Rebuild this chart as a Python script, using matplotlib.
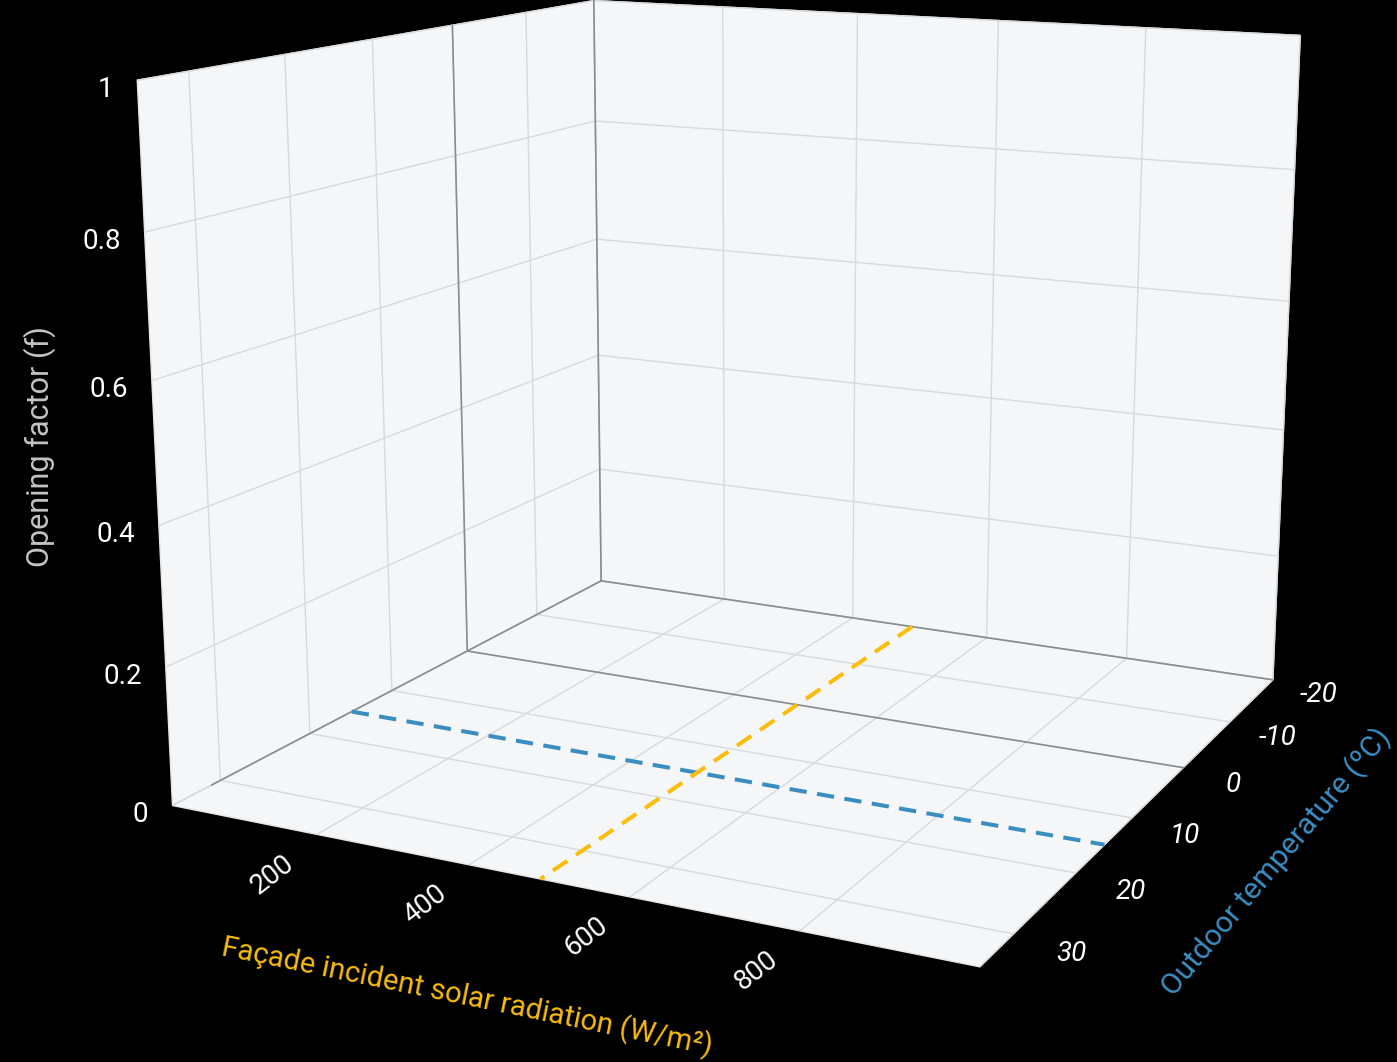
import matplotlib.pyplot as plt
from mpl_toolkits.mplot3d import proj3d

# axis data
temp_range = [-20, 35]
rad_range = [0, 1000]
f_range = [0, 1]
temp_ticks = [-20, -10, 0, 10, 20, 30]
rad_ticks = [200, 400, 600, 800]
f_ticks = [0, 0.2, 0.4, 0.6, 0.8, 1]
f_labels = ['0', '0.2', '0.4', '0.6', '0.8', '1']

# threshold lines on the floor
blue_temp = 15
yellow_rad = 490

plt.rcParams['font.family'] = ['Roboto', 'DejaVu Sans']
plt.rcParams['grid.color'] = '#d7dadd'
plt.rcParams['grid.linewidth'] = 1.0

W, H = 1397, 1062
fig = plt.figure(figsize=(W / 100, H / 100), dpi=100, facecolor='black')
# axes shifted so the box sits like in the reference
ax = fig.add_axes([43.3 / W, 109.7 / H, 1, 1], projection='3d', facecolor='black')

ax.set_xlim(*temp_range)
ax.set_ylim(*rad_range)
ax.set_zlim(*f_range)
ax.set_xticks(temp_ticks)
ax.set_yticks([0] + rad_ticks + [1000])
ax.set_zticks(f_ticks)
ax.set_xticklabels([])
ax.set_yticklabels([])
ax.set_zticklabels([])

for axis in (ax.xaxis, ax.yaxis, ax.zaxis):
    axis.set_pane_color('#f4f6f7')
    axis.pane.set_edgecolor('#e4e6e8')
    axis.line.set_color((0, 0, 0, 0))
    axis._axinfo['tick']['inward_factor'] = 0.0
    axis._axinfo['tick']['outward_factor'] = 0.0

ax.set_proj_type('persp', focal_length=0.5126)
ax.view_init(elev=13.33, azim=26.49)
ax.set_box_aspect((1.0017, 1, 0.8349), zoom=1.261)

# zero lines
zc = '#8a8d90'
ax.plot([0, 0], [0, 0], f_range, color=zc, lw=1.2)
ax.plot([0, 0], rad_range, [0, 0], color=zc, lw=1.2)
ax.plot([temp_range[0]] * 2, [0, 0], f_range, color=zc, lw=1.2)
ax.plot(temp_range, [0, 0], [0, 0], color=zc, lw=1.2)
ax.plot([temp_range[0]] * 2, rad_range, [0, 0], color=zc, lw=1.2)

# dashed threshold lines
ax.plot([blue_temp, blue_temp], rad_range, [0, 0], color='#3a8dc1', lw=2.9,
        dashes=(4.3, 2.6))
ax.plot(temp_range, [yellow_rad, yellow_rad], [0, 0], color='#fbbd0b', lw=2.9,
        dashes=(4.3, 2.6))

# tick labels, anchored at projected 3D points
M = ax.get_proj()


def label(x, y, z, s, dx, dy, **kw):
    px, py, _ = proj3d.proj_transform(x, y, z, M)
    ax.annotate(s, (px, py), xycoords='data', xytext=(dx, dy),
                textcoords='offset pixels', color='white', fontsize=20,
                annotation_clip=False, **kw)


for v, s in zip(f_ticks, f_labels):
    label(temp_range[1], 0, v, s, -24, -9, ha='right', va='center')
for v in rad_ticks:
    label(temp_range[1], v, 0, str(v), -44, -40, rotation=38,
          ha='center', va='center', rotation_mode='anchor')
for v in temp_ticks:
    label(v, 1075, 0, str(v), -11, -7, style='italic', ha='center', va='center')

# axis titles
fig.text(40 / W, 1 - 447 / H, 'Opening factor (f)', color='#c4c4c4', fontsize=22,
         rotation=90, ha='center', va='center')
fig.text(467 / W, 1 - 997 / H, 'Façade incident solar radiation (W/m²)', color='#f9bd0c',
         fontsize=21, rotation=-11.5, ha='center', va='center', rotation_mode='anchor')
fig.text(1276 / W, 1 - 862 / H, 'Outdoor temperature (ºC)', color='#3b8fc4', fontsize=21.5,
         rotation=50, ha='center', va='center', rotation_mode='anchor')

fig.savefig('out.png', dpi=100, facecolor='black')
